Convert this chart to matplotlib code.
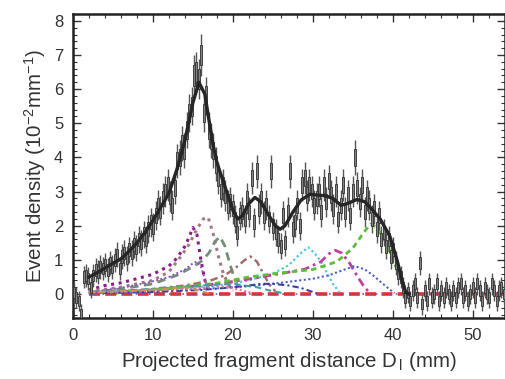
import numpy as np
import matplotlib
matplotlib.use("Agg")
import matplotlib.pyplot as plt
from matplotlib.ticker import MultipleLocator

plt.rcParams['font.family'] = ['Liberation Sans', 'DejaVu Sans']
plt.rcParams['mathtext.fontset'] = 'custom'
plt.rcParams['mathtext.rm'] = 'Liberation Sans'
plt.rcParams['mathtext.it'] = 'Liberation Sans:italic'

# histogram, bin width 0.3 mm starting at 0
bin_width = 0.3
density = [
    0.05, -0.1, -0.2, -0.6, 0.5, 0.55, 0.45, 0.2, 0.55, 0.7,
    0.65, 0.8, 0.75, 0.85, 0.7, 0.9, 0.8, 1.0, 1.15, 0.75,
    1.1, 1.2, 1.05, 1.3, 1.2, 1.45, 1.35, 1.6, 1.5, 1.75,
    1.6, 1.9, 2.1, 1.95, 2.3, 2.6, 2.45, 2.8, 3.0, 3.2,
    2.85, 2.6, 3.1, 3.9, 4.0, 4.4, 4.2, 4.8, 5.3, 5.5,
    6.4, 6.5, 6.3, 7.0, 5.3, 5.8, 4.8, 4.5, 4.2, 3.8,
    3.4, 3.0, 3.2, 2.9, 2.6, 2.7, 2.5, 2.2, 1.8, 2.3,
    2.4, 2.2, 2.8, 2.4, 3.4, 2.1, 3.6, 2.5, 2.8, 2.3,
    2.6, 2.2, 3.6, 2.0, 1.8, 1.6, 1.4, 2.3, 1.5, 2.4,
    3.6, 1.9, 2.1, 2.6, 2.0, 3.2, 3.4, 2.9, 3.2, 3.0,
    2.6, 2.8, 3.0, 2.4, 3.2, 2.7, 3.3, 2.9, 2.5, 3.0,
    2.2, 2.6, 3.2, 2.4, 2.9, 2.3, 3.0, 4.0, 3.1, 2.7,
    3.2, 2.4, 2.9, 2.6, 2.2, 2.5, 1.9, 2.3, 1.6, 1.8,
    1.4, 1.6, 1.1, 1.3, 0.9, 0.6, 0.5, 0.2, -0.1, 0.05,
    -0.2, 0.1, 0.3, -0.1, 0.9, -0.3, 0.1, -0.2, 0.3, -0.1,
    0.0, 0.3, -0.2, 0.1, -0.1, 0.2, 0.0, -0.2, 0.1, -0.1,
    0.2, 0.3, -0.1, 0.1, -0.2, 0.0, 0.2, -0.1, 0.3, 0.1,
    -0.2, 0.2, 0.0, -0.1, 0.3, 0.1, -0.2, 0.1, 0.2, 0.0,
]

# total fit
fit_x = [2.0, 3, 4, 5, 6, 7, 8, 9, 10, 11, 12, 13, 14, 15, 15.75, 16.5, 17,
         17.5, 18, 19, 20, 20.6, 21.2, 22, 22.75, 23.5, 24.5, 25.3, 25.9,
         26.5, 27.5, 28.5, 29.6, 30.5, 31.5, 32.5, 33.5, 34.3, 35.5, 36.5,
         37.3, 38.4, 39.6, 40.5, 41.2, 41.6, 42]
fit_y = [0.50, 0.62, 0.76, 0.9, 1.03, 1.25, 1.5, 1.8, 2.15, 2.55, 2.95, 3.65,
         4.5, 5.6, 6.2, 5.85, 5.1, 4.4, 3.85, 3.15, 2.45, 2.2, 2.3, 2.65, 2.83,
         2.7, 2.3, 2.0, 1.9, 2.0, 2.4, 2.75, 2.92, 2.9, 2.88, 2.8, 2.6, 2.65,
         2.77, 2.7, 2.5, 2.2, 1.7, 1.0, 0.35, 0.05, 0.0]

# fit components: (x, y, colour, linestyle, width)
components = [
    ([2, 4, 6, 8, 10, 12, 13, 14, 14.5, 15, 15.5, 16, 16.5, 17],
     [0.12, 0.25, 0.33, 0.45, 0.58, 0.82, 1.05, 1.4, 1.65, 1.95, 1.75, 1.0, 0.4, 0.08],
     '#8b1c8b', (0, (1, 1.5)), 2.2),
    ([2, 6, 10, 12, 13.5, 14.5, 15.5, 16.3, 16.9, 17.5, 18.2, 18.8, 19.4, 20],
     [0.08, 0.2, 0.4, 0.65, 1.1, 1.45, 1.9, 2.2, 2.25, 1.8, 1.1, 0.6, 0.3, 0.1],
     '#a07a80', (0, (1, 1.5)), 2.2),
    ([2, 6, 10, 13, 15, 16, 17, 17.8, 18.4, 19, 19.6, 20.2, 20.8],
     [0.05, 0.15, 0.3, 0.55, 0.8, 0.95, 1.2, 1.55, 1.68, 1.4, 0.9, 0.45, 0.1],
     '#6f8f78', (0, (3, 2)), 2.0),
    ([2, 6, 9.6, 12, 14, 15, 15.5, 16, 16.5, 17],
     [0.05, 0.18, 0.35, 0.5, 0.72, 0.9, 0.95, 0.8, 0.45, 0.1],
     '#8e55c0', (0, (1, 1.2)), 1.4),
    ([2, 8, 14, 17, 19, 20.5, 21.5, 22.2, 23, 23.8, 24.5, 25.3],
     [0.03, 0.1, 0.25, 0.38, 0.55, 0.8, 1.0, 1.1, 0.95, 0.6, 0.3, 0.08],
     '#a06e6e', (0, (3, 1.5, 1, 1.5)), 1.8),
    ([2, 10, 18, 22, 25, 27, 28.5, 29.4, 30.2, 31, 31.8, 32.5, 33.3],
     [0.03, 0.1, 0.25, 0.4, 0.6, 0.85, 1.2, 1.37, 1.2, 0.95, 0.6, 0.3, 0.05],
     '#4fc6e0', (0, (1, 1.2)), 1.6),
    ([2, 10, 18, 22, 26, 29, 31, 32, 32.8, 33.6, 34.6, 35.6, 36.3, 37],
     [0.03, 0.12, 0.3, 0.44, 0.6, 0.73, 0.95, 1.18, 1.28, 1.2, 0.9, 0.5, 0.25, 0.05],
     '#c0409e', (0, (3, 1.5, 1, 1.5)), 2.0),
    ([2, 10, 18, 22, 26, 30, 33, 35, 36.5, 37.2, 38, 39, 40, 41, 41.8],
     [0.03, 0.12, 0.32, 0.5, 0.62, 0.72, 0.95, 1.35, 1.85, 2.05, 1.95, 1.55, 1.0, 0.45, 0.05],
     '#5cbf35', (0, (2, 1.5)), 2.0),
    ([2, 10, 18, 22, 26, 30, 32, 33.5, 35.2, 36.5, 37.5, 38.5, 39.5, 40.2],
     [0.02, 0.08, 0.17, 0.23, 0.33, 0.45, 0.55, 0.68, 0.82, 0.72, 0.55, 0.35, 0.15, 0.03],
     '#4a62c8', (0, (1, 1.2)), 1.5),
    ([2, 10, 16, 20, 22, 23.5, 25, 27, 28.5, 29.5, 30.5],
     [0.02, 0.06, 0.12, 0.2, 0.25, 0.3, 0.3, 0.25, 0.18, 0.1, 0.02],
     '#3a3fa0', (0, (3, 1.5, 1, 1.5)), 1.5),
    ([2, 10, 16, 20, 23, 25, 26.5],
     [0.05, 0.15, 0.25, 0.3, 0.2, 0.08, 0.02],
     '#40a0a0', (0, (3, 2)), 1.5),
    ([2, 10, 16, 19, 21, 22.5],
     [0.04, 0.1, 0.18, 0.22, 0.12, 0.02],
     '#e070b0', (0, (1, 1.2)), 1.5),
    ([2, 8, 12, 14, 15.5, 17],
     [0.05, 0.1, 0.16, 0.2, 0.12, 0.02],
     '#d09050', (0, (3, 2)), 1.5),
]
base_x = [2, 54]
base_y = [0, 0]

fig = plt.figure(figsize=(5.06, 3.79), dpi=100)
ax = fig.add_axes([0.144, 0.161, 0.854, 0.802])

ax.plot(base_x, base_y, color='#e03030', lw=2.6, ls=(0, (3, 1.5)), zorder=2)
ax.plot(base_x, base_y, color='#7a5ab0', lw=1.2, ls=(0, (1, 3)), zorder=2)
for cx, cy, col, ls, lw in components:
    ax.plot(cx, cy, color=col, ls=ls, lw=lw, zorder=2)

vals = np.array(density)
centers = bin_width / 2 + bin_width * np.arange(len(vals))
# poisson-like uncertainty grows with the density
err = np.sqrt(0.09 + 0.04 * np.clip(vals, 0, None))
ax.vlines(centers, vals - err, vals + err, color='#555555', lw=1.0, zorder=3)
ax.bar(centers, err, bottom=vals - err / 2, width=0.25, color='#828282',
       edgecolor='#303030', linewidth=0.6, zorder=4)

ax.plot(fit_x, fit_y, color='#262626', lw=2.4, zorder=5)

ax.set_xlim(0, 54)
ax.set_ylim(-0.7, 8.2)
ax.xaxis.set_major_locator(MultipleLocator(10))
ax.xaxis.set_minor_locator(MultipleLocator(2))
ax.yaxis.set_major_locator(MultipleLocator(1))
ax.yaxis.set_minor_locator(MultipleLocator(0.2))
ax.tick_params(which='both', direction='in', top=True, right=True,
               labelsize=12, labelcolor='#333333', color='#333333', pad=7)
ax.tick_params(which='major', length=6, width=1.0)
ax.tick_params(which='minor', length=3, width=0.8)
for s in ax.spines.values():
    s.set_linewidth(1.8)
    s.set_color('#222222')

ax.set_xlabel('Projected fragment distance D$_{\\,\\mathrm{l}}$ (mm)',
              fontsize=14.8, color='#333333', labelpad=5)
ax.set_ylabel('Event density (10$^{-2}$mm$^{-1}$)', fontsize=14.8,
              color='#333333', labelpad=4)

fig.savefig('out.png', dpi=100)
